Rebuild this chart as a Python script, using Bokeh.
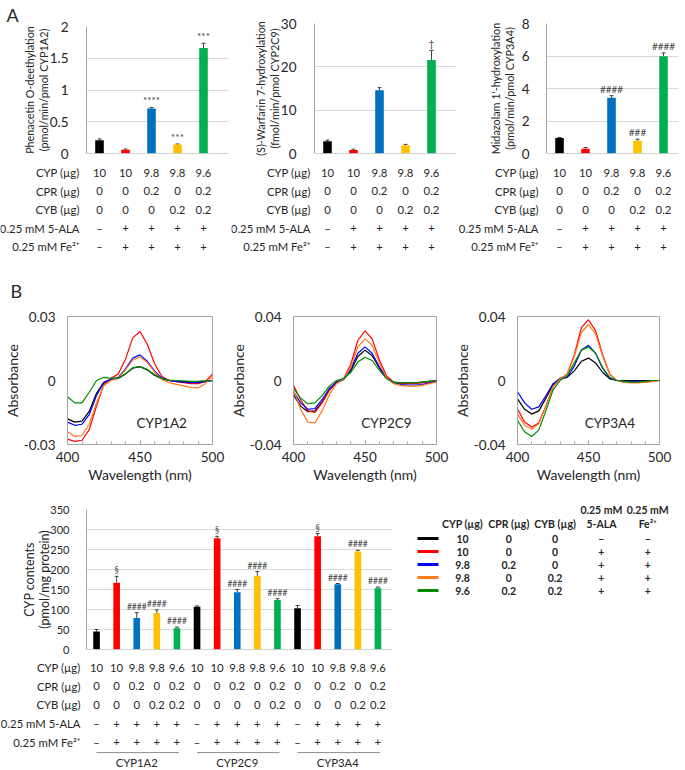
from bokeh.plotting import figure
from bokeh.layouts import row, column
from bokeh.models import (Range1d, FixedTicker, Whisker, TeeHead, ColumnDataSource,
                          Span, NumeralTickFormatter)
from bokeh.embed import file_html
from bokeh.resources import INLINE
from bokeh.core.properties import value

FONT = "Lato"
INK = "#262626"
AXIS = "#A6A6A6"
GRID = "#D9D9D9"

# ---------------- shared condition table ----------------
row_labels = ["CYP (µg)", "CPR (µg)", "CYB (µg)", "0.25 mM 5-ALA", "0.25 mM Fe²⁺"]
cyp_ug = ["10", "10", "9.8", "9.8", "9.6"]
cpr_ug = ["0", "0", "0.2", "0", "0.2"]
cyb_ug = ["0", "0", "0", "0.2", "0.2"]
ala = ["–", "+", "+", "+", "+"]
fe = ["–", "+", "+", "+", "+"]
bar_colors = ["#000000", "#FF0000", "#0070C0", "#FFC000", "#00B050"]

# ---------------- panel A ----------------
a1_vals = [0.21, 0.06, 0.71, 0.14, 1.66]
a1_errs = [0.02, 0.01, 0.015, 0.01, 0.075]
a1_marks = ["", "", "****", "***", "***"]
a1_ticks = [0, 0.5, 1, 1.5, 2]
a1_label = "Phenacetin O-deethylation\n(pmol/min/pmol CYP1A2)"

a2_vals = [2.8, 0.8, 14.6, 1.9, 21.6]
a2_errs = [0.3, 0.2, 0.6, 0.2, 2.2]
a2_marks = ["", "", "", "", "†"]
a2_ticks = [0, 10, 20, 30]
a2_label = "(S)-Warfarin 7-hydroxylation\n(fmol/min/pmol CYP2C9)"

a3_vals = [0.96, 0.29, 3.43, 0.78, 5.99]
a3_errs = [0.03, 0.08, 0.13, 0.1, 0.2]
a3_marks = ["", "", "####", "###", "####"]
a3_ticks = [0, 2, 4, 6, 8]
a3_label = "Midazolam 1'-hydroxylation\n(pmol/min/pmol CYP3A4)"

# ---------------- panel B spectra ----------------
wavelength = [400, 405, 410, 415, 420, 425, 430, 435, 440, 445, 450,
              455, 460, 465, 470, 475, 480, 485, 490, 495, 500]
spec_colors = ["#000000", "#FF0000", "#0000FF", "#FF7A1A", "#008A00"]

cyp1a2_black = [-0.018, -0.0195, -0.019, -0.0145, -0.006, -0.0008, 0.0005, 0.001, 0.003, 0.0058, 0.0065,
                0.005, 0.0025, 0.0008, 0.0, -0.0003, -0.0005, -0.0005, -0.0005, -0.0003, 0.0]
cyp1a2_red = [-0.0275, -0.0285, -0.028, -0.023, -0.012, -0.002, 0.001, 0.003, 0.010, 0.020, 0.023,
              0.017, 0.008, 0.002, 0.0, -0.0005, -0.001, -0.0015, -0.0015, -0.0005, 0.003]
cyp1a2_blue = [-0.0195, -0.021, -0.0205, -0.016, -0.007, -0.001, 0.0005, 0.0015, 0.0055, 0.0105, 0.012,
               0.009, 0.0045, 0.0012, 0.0, -0.0005, -0.0008, -0.001, -0.001, -0.0005, 0.0]
cyp1a2_orange = [-0.024, -0.0262, -0.0258, -0.0205, -0.0105, -0.0025, 0.0, 0.0012, 0.005, 0.0095, 0.011,
                 0.0085, 0.004, 0.0005, -0.001, -0.0018, -0.0025, -0.0032, -0.0035, -0.0015, 0.002]
cyp1a2_green = [-0.0076, -0.0105, -0.0105, -0.0055, 0.0, 0.0015, 0.001, 0.0012, 0.0032, 0.006, 0.0065,
                0.0052, 0.0028, 0.001, 0.0002, 0.0, -0.0002, -0.0004, -0.0004, -0.0002, 0.0]

cyp2c9_black = [-0.009, -0.016, -0.0195, -0.019, -0.0135, -0.006, -0.0015, 0.0005, 0.006, 0.015, 0.019,
                0.0155, 0.008, 0.0015, -0.001, -0.0015, -0.0015, -0.0015, -0.001, -0.0005, 0.0]
cyp2c9_red = [-0.003, -0.012, -0.019, -0.020, -0.014, -0.006, -0.001, 0.001, 0.010, 0.025, 0.031,
              0.026, 0.013, 0.003, -0.001, -0.002, -0.002, -0.002, -0.0015, -0.001, 0.0]
cyp2c9_blue = [-0.007, -0.014, -0.018, -0.0175, -0.012, -0.005, -0.001, 0.0008, 0.007, 0.017, 0.021,
               0.017, 0.0085, 0.0015, -0.0015, -0.0025, -0.0028, -0.0028, -0.0025, -0.0015, -0.0005]
cyp2c9_orange = [-0.006, -0.018, -0.026, -0.0265, -0.019, -0.009, -0.002, 0.001, 0.008, 0.021, 0.026,
                 0.022, 0.011, 0.002, -0.002, -0.003, -0.0035, -0.0035, -0.003, -0.002, -0.001]
cyp2c9_green = [-0.005, -0.011, -0.0145, -0.014, -0.0095, -0.0035, 0.0, 0.0012, 0.005, 0.0115, 0.0145,
                0.0125, 0.0065, 0.0012, -0.001, -0.0015, -0.0015, -0.0015, -0.001, -0.0005, 0.0]

cyp3a4_black = [-0.0115, -0.018, -0.021, -0.019, -0.011, -0.0025, 0.0015, 0.002, 0.006, 0.012, 0.014,
                0.011, 0.005, 0.001, 0.0, 0.0, 0.0, 0.0, 0.0, 0.0, 0.0]
cyp3a4_red = [-0.0178, -0.026, -0.029, -0.0265, -0.016, -0.004, 0.001, 0.004, 0.016, 0.033, 0.038,
              0.031, 0.016, 0.004, 0.0, -0.001, -0.001, -0.001, -0.001, -0.0005, 0.0]
cyp3a4_blue = [-0.007, -0.014, -0.018, -0.0165, -0.0095, -0.002, 0.001, 0.002, 0.009, 0.019, 0.022,
               0.017, 0.0075, 0.0015, 0.0, -0.0005, -0.0005, -0.0005, -0.0003, 0.0, 0.0]
cyp3a4_orange = [-0.021, -0.028, -0.0305, -0.027, -0.016, -0.004, 0.001, 0.004, 0.015, 0.030, 0.035,
                 0.029, 0.015, 0.004, 0.0, -0.001, -0.0015, -0.0015, -0.001, -0.0005, 0.0]
cyp3a4_green = [-0.025, -0.032, -0.035, -0.031, -0.019, -0.006, 0.0, 0.003, 0.011, 0.019, 0.021,
                0.017, 0.008, 0.002, 0.0, -0.0005, -0.001, -0.001, -0.0005, 0.0, 0.0]

# ---------------- bottom: CYP contents ----------------
b_vals = [45, 167, 79, 91, 53, 107, 278, 143, 184, 124, 103, 283, 163, 245, 153]
b_errs = [5, 16, 13, 8, 3, 2, 5, 7, 11, 3, 7, 7, 2, 3, 3]
b_marks = ["", "§", "####", "####", "####"] * 3
b_ticks = [0, 50, 100, 150, 200, 250, 300, 350]
b_label = "CYP contents\n(pmol/mg protein)"
b_cyp = cyp_ug * 3
b_cpr = cpr_ug * 3
b_cyb = ["0", "0", "0", "0.2", "0.2", "0", "0", "0", "0", "0.2", "0", "0", "0", "0.2", "0.2"]
b_ala = ala * 3
b_fe = fe * 3
groups = ["CYP1A2", "CYP2C9", "CYP3A4"]

legend_head1 = ["", "", "", "0.25 mM", "0.25 mM"]
legend_head2 = ["CYP (µg)", "CPR (µg)", "CYB (µg)", "5-ALA", "Fe²⁺"]

TABLE_FONT = "11.3px"


def base_fig(width, height, xr, yr, bl, br, bt, bb, title=None, **kw):
    p = figure(width=width, height=height, x_range=xr, y_range=yr, title=title,
               output_backend="svg", toolbar_location=None,
               min_border_left=bl, min_border_right=br,
               min_border_top=bt, min_border_bottom=bb, **kw)
    p.frame_align = False
    return p


def panel_letter(p, offset, standoff):
    t = p.title
    t.align = "left"
    t.offset = offset
    t.standoff = standoff
    t.text_font = FONT
    t.text_font_size = "18px"
    t.text_font_style = "normal"
    t.text_color = INK
    t.text_line_height = 1.0


def style_yaxis(p, ticks, fmt, label, tick_size, label_size, standoff, label_standoff):
    ax = p.yaxis[0]
    ax.ticker = FixedTicker(ticks=ticks)
    ax.formatter = NumeralTickFormatter(format=fmt)
    ax.axis_line_color = AXIS
    ax.major_tick_line_color = None
    ax.minor_tick_line_color = None
    ax.major_label_standoff = standoff
    ax.major_label_text_font = FONT
    ax.major_label_text_font_size = tick_size
    ax.major_label_text_color = INK
    ax.axis_label = label
    ax.axis_label_text_font = FONT
    ax.axis_label_text_font_size = label_size
    ax.axis_label_text_font_style = "normal"
    ax.axis_label_text_color = INK
    ax.axis_label_standoff = label_standoff
    ax.axis_label_text_line_height = 1.05


def bar_chart(vals, errs, marks, colors, ticks, label, width, height, bl, br, bt, bb,
              spacing, bar_w, tick_size, label_size, standoff, label_standoff, mark_size, title=None):
    n = len(vals)
    frame_w = width - bl - br
    xr = Range1d(-0.5, -0.5 + frame_w / spacing)
    p = base_fig(width, height, xr, Range1d(0, ticks[-1]), bl, br, bt, bb, title=title,
                 x_axis_type=None)
    p.outline_line_color = None
    style_yaxis(p, ticks, "0.[0]", label, tick_size, label_size, standoff, label_standoff)
    p.ygrid[0].ticker = FixedTicker(ticks=ticks)
    p.ygrid.grid_line_color = GRID
    src = ColumnDataSource(dict(x=list(range(n)), top=vals,
                                upper=[v + e for v, e in zip(vals, errs)],
                                color=colors, mark=marks))
    p.vbar(x="x", top="top", bottom=0, width=bar_w, fill_color="color", line_color=None, source=src)
    p.add_layout(Span(location=0, dimension="width", line_color=AXIS, line_width=1))
    p.add_layout(Whisker(base="x", upper="upper", lower="top", source=src, dimension="height",
                         line_color="#404040", line_width=1,
                         upper_head=TeeHead(size=4, line_color="#404040", line_width=1),
                         lower_head=None))
    p.text(x="x", y="upper", text="mark", source=src, text_align="center", text_baseline="bottom",
           y_offset=-1, text_font=value(FONT), text_font_size=mark_size, text_color="#404040")
    return p


def cond_table(columns, width, height, first_px, spacing, label_right_px, row_top, row_step,
               font_size, groups_=None, group_size=5, line_row=None, label_row=None):
    xr = Range1d(-first_px / spacing, (width - first_px) / spacing)
    yr = Range1d(-(height - row_top) / row_step, row_top / row_step)
    p = base_fig(width, height, xr, yr, 0, 0, 0, 0, x_axis_type=None, y_axis_type=None)
    p.outline_line_color = None
    xs, ys, ts = [], [], []
    for r, col in enumerate(columns):
        for i, t in enumerate(col):
            xs.append(i)
            ys.append(-r)
            ts.append(t)
    p.text(xs, ys, ts, text_align="center", text_baseline="middle",
           text_font=value(FONT), text_font_size=font_size, text_color=INK)
    lx = (label_right_px - first_px) / spacing
    p.text([lx] * len(row_labels), [-r for r in range(len(row_labels))], row_labels,
           text_align="right", text_baseline="middle",
           text_font=value(FONT), text_font_size=font_size, text_color=INK)
    if groups_:
        ng = len(groups_)
        x0s = [g * group_size for g in range(ng)]
        x1s = [g * group_size + group_size - 0.9 for g in range(ng)]
        p.segment(x0s, [-line_row] * ng, x1s, [-line_row] * ng, line_color="#8C8C8C", line_width=1)
        p.text([g * group_size + (group_size - 1) / 2 for g in range(ng)], [-label_row] * ng, groups_,
               text_align="center", text_baseline="middle",
               text_font=value(FONT), text_font_size=font_size, text_color=INK)
    return p


def spectrum(series, ymax, name, width, bl, br, letter=None):
    height, bt, bb = 235, 61, 46
    p = base_fig(width, height, Range1d(400, 500), Range1d(-ymax, ymax), bl, br, bt, bb, title=letter)
    p.outline_line_color = AXIS
    p.grid.visible = False
    for ys, c in zip(series, spec_colors):
        p.line(wavelength, ys, line_color=c, line_width=1.2)
    style_yaxis(p, [-ymax, 0, ymax], "0.[00]", "Absorbance", "13.5px", "14px", 6, 0)
    ax = p.xaxis[0]
    ax.ticker = FixedTicker(ticks=[400, 450, 500], minor_ticks=list(range(410, 500, 10)))
    ax.axis_line_color = AXIS
    ax.major_tick_in = 4
    ax.major_tick_out = 0
    ax.minor_tick_in = 3
    ax.minor_tick_out = 0
    ax.major_tick_line_color = AXIS
    ax.minor_tick_line_color = AXIS
    ax.major_label_standoff = 7
    ax.major_label_text_font = FONT
    ax.major_label_text_font_size = "13.5px"
    ax.major_label_text_color = INK
    ax.axis_label = "Wavelength (nm)"
    ax.axis_label_text_font = FONT
    ax.axis_label_text_font_size = "14px"
    ax.axis_label_text_font_style = "normal"
    ax.axis_label_text_color = INK
    ax.axis_label_standoff = 1
    p.text([465], [-ymax * 0.667], [name], text_align="center", text_baseline="middle",
           text_font=value(FONT), text_font_size="13.5px", text_color=INK)
    if letter:
        panel_letter(p, -(bl - 2), 30)
    return p


# ---------- panel A ----------
cond_cols = [cyp_ug, cpr_ug, cyb_ug, ala, fe]
A_H, A_BT, A_BB = 160, 23, 7
A_LAB = "10.8px"
c1 = bar_chart(a1_vals, a1_errs, a1_marks, bar_colors, a1_ticks, a1_label, 231, A_H, 86, 3, A_BT, A_BB,
               26, 0.33, "13.5px", A_LAB, 12, -3, "10px", title="A")
panel_letter(c1, -80, 2)
c2 = bar_chart(a2_vals, a2_errs, a2_marks, bar_colors, a2_ticks, a2_label, 227, A_H, 83, 2, A_BT, A_BB,
               26, 0.33, "13.5px", A_LAB, 12, -3, "10px")
c3 = bar_chart(a3_vals, a3_errs, a3_marks, bar_colors, a3_ticks, a3_label, 227, A_H, 88, 7, A_BT, A_BB,
               26, 0.33, "13.5px", A_LAB, 11, 3, "10px")
t1 = cond_table(cond_cols, 231, 95, 99, 26, 79, 12, 18.5, TABLE_FONT)
t2 = cond_table(cond_cols, 227, 95, 96, 26, 79, 12, 18.5, TABLE_FONT)
t3 = cond_table(cond_cols, 227, 95, 101, 26, 80, 12, 18.5, TABLE_FONT)

# ---------- panel B ----------
s1 = spectrum([cyp1a2_black, cyp1a2_red, cyp1a2_blue, cyp1a2_orange, cyp1a2_green], 0.03, "CYP1A2",
              226, 59, 14, letter="B")
s2 = spectrum([cyp2c9_black, cyp2c9_red, cyp2c9_blue, cyp2c9_orange, cyp2c9_green], 0.04, "CYP2C9",
              224, 58, 14)
s3 = spectrum([cyp3a4_black, cyp3a4_red, cyp3a4_blue, cyp3a4_orange, cyp3a4_green], 0.04, "CYP3A4",
              235, 56, 26)

# ---------- bottom ----------
bc = bar_chart(b_vals, b_errs, b_marks, bar_colors * 3, b_ticks, b_label, 400, 165, 86, 8, 19, 6,
               20.1, 0.33, "11px", "12.5px", 11, -5, "8.5px")
btab = cond_table([b_cyp, b_cpr, b_cyb, b_ala, b_fe], 400, 115, 96, 20.1, 80, 12, 18.7, TABLE_FONT,
                  groups_=groups, line_row=4.55, label_row=5.08)

# legend table
LW, LH = 285, 280
l_first, l_step, l_row0, l_rstep = 62.0, 46.3, 48.0, 13.0
leg = base_fig(LW, LH, Range1d(-l_first / l_step, (LW - l_first) / l_step),
               Range1d(-(LH - l_row0) / l_rstep, l_row0 / l_rstep), 0, 0, 0, 0,
               x_axis_type=None, y_axis_type=None)
leg.outline_line_color = None
leg_rows = list(zip(cyp_ug, cpr_ug, cyb_ug, ala, fe))
hx, hy, ht = [], [], []
for j, (h1, h2) in enumerate(zip(legend_head1, legend_head2)):
    if h1:
        hx.append(j); hy.append(29 / l_rstep); ht.append(h1)
    hx.append(j); hy.append(15 / l_rstep); ht.append(h2)
for i, r in enumerate(leg_rows):
    for j, t in enumerate(r):
        hx.append(j); hy.append(-i); ht.append(t)
leg.text(hx, hy, ht, text_align="center", text_baseline="middle", text_font=value(FONT),
         text_font_size="10.5px", text_font_style="bold", text_color=INK)
lx_c = (27.5 - l_first) / l_step
lhalf = 10.5 / l_step
leg.segment([lx_c - lhalf] * 5, [-i for i in range(5)], [lx_c + lhalf] * 5, [-i for i in range(5)],
            line_color=spec_colors, line_width=3)

layout = column(
    row(c1, c2, c3),
    row(t1, t2, t3),
    row(s1, s2, s3),
    row(column(bc, btab), leg),
)

open("out.html", "w").write(file_html(layout, INLINE))
